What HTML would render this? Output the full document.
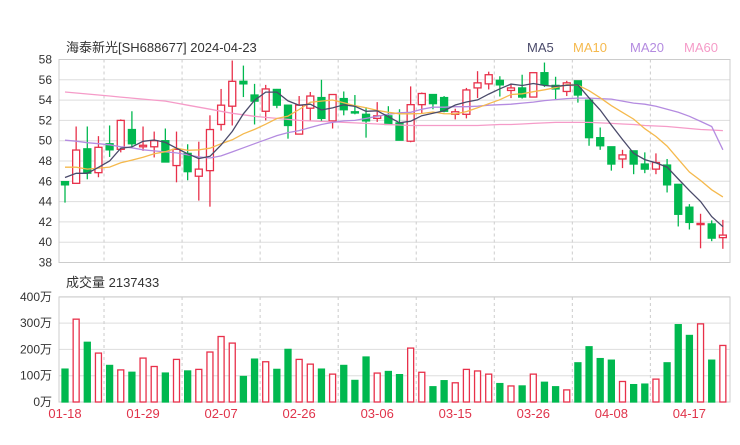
<!DOCTYPE html>
<html><head><meta charset="utf-8"><style>
body{margin:0;background:#fff;width:740px;height:440px;overflow:hidden;font-family:"Liberation Sans","Noto Sans CJK SC",sans-serif}
</style></head><body>
<svg id="c" width="740" height="440" xmlns="http://www.w3.org/2000/svg" font-family="Liberation Sans, Noto Sans CJK SC, sans-serif"></svg>
<script>
const opens=[45.97,45.8,49.2,46.85,49.7,49.15,51.1,49.4,49.4,50.0,47.55,48.75,46.5,47.05,51.6,53.4,55.85,54.5,52.9,55.05,53.5,50.65,53.2,54.25,51.95,54.15,52.85,52.6,52.2,52.45,51.75,49.95,53.55,54.55,54.25,52.6,52.6,55.2,55.6,55.95,54.95,55.2,54.3,56.7,55.45,54.85,55.9,54.0,50.3,49.4,48.2,49.0,47.7,47.2,47.6,45.7,43.45,41.75,41.8,40.45];
const closes=[45.65,49.08,46.8,49.35,49.1,52.0,49.7,49.55,50.0,47.9,49.15,46.95,47.2,51.1,53.5,55.85,55.6,53.9,55.1,53.5,51.5,53.5,54.4,52.2,54.55,53.05,52.75,51.95,52.45,51.6,50.05,53.55,54.65,53.65,52.9,52.85,55.0,55.7,56.5,55.5,55.2,54.3,56.7,55.5,55.1,55.7,54.5,50.3,49.5,47.7,48.6,47.7,47.2,47.85,45.65,42.75,41.95,41.85,40.4,40.7];
const highs=[46.0,51.4,51.4,50.45,51.5,52.1,52.9,51.4,50.9,51.2,50.9,49.65,49.9,52.5,55.1,57.9,57.4,55.6,55.5,55.1,53.5,54.4,54.8,56.0,54.6,54.85,54.5,53.3,53.8,53.4,53.1,55.35,54.75,54.6,54.4,53.15,55.2,56.85,56.8,56.35,55.6,56.5,56.7,57.7,56.3,55.9,55.9,54.0,51.3,49.4,49.1,49.0,48.85,48.75,48.2,45.7,43.75,42.8,42.15,42.2];
const lows=[43.9,45.8,46.2,46.4,48.4,48.85,49.4,49.0,48.35,47.9,45.9,46.1,44.1,43.5,51.0,51.5,54.3,51.6,52.0,53.2,50.2,50.65,51.95,51.85,51.2,52.5,52.6,50.3,51.85,51.6,50.05,49.85,52.7,53.1,52.8,52.1,52.2,54.2,55.05,54.35,54.2,54.15,54.3,55.3,54.1,54.4,53.75,49.5,49.1,47.05,47.3,46.7,46.8,46.7,44.9,41.55,41.25,39.4,40.1,39.35];
const volumes=[125,315,227,186,139,122,113,167,135,110,162,118,124,190,249,224,97,163,153,124,200,162,144,125,106,139,82,171,110,116,104,205,113,58,81,73,124,118,106,70,61,61,106,75,58,46,149,210,165,159,78,66,68,87,149,294,253,297,159,215];
const prevCloses=[49,48.7,48.4,48.1,47.8,47.0,46.8,46.4,46.0];
const ma20=[50.05,49.95,49.8,49.7,49.6,49.4,49.3,49.1,49.0,48.9,48.8,48.6,48.4,48.3,48.5,48.9,49.3,49.7,50.1,50.5,50.8,51.0,51.3,51.6,51.8,51.95,52.0,52.2,52.4,52.6,52.75,52.8,53.1,53.3,53.3,53.35,53.35,53.4,53.5,53.55,53.6,53.7,53.8,53.95,54.05,54.15,54.2,54.2,54.15,54.1,53.9,53.7,53.6,53.4,53.1,52.8,52.4,51.9,51.4,49.1];
const ma60=[54.8,54.7,54.6,54.5,54.4,54.3,54.2,54.1,54.0,53.9,53.7,53.5,53.3,53.1,52.9,52.7,52.55,52.4,52.3,52.2,52.1,52.0,51.95,51.9,51.85,51.8,51.75,51.7,51.65,51.6,51.55,51.5,51.5,51.5,51.5,51.5,51.5,51.5,51.55,51.6,51.6,51.65,51.7,51.75,51.8,51.8,51.8,51.8,51.75,51.7,51.65,51.6,51.5,51.45,51.4,51.3,51.2,51.1,51.05,51.0];
const priceTicks=[58,56,54,52,50,48,46,44,42,40,38];
const volTicks=[400,300,200,100,0];
const dateLabels=["01-18","01-29","02-07","02-26","03-06","03-15","03-26","04-08","04-17"];
const dateIdx=[0,7,14,21,28,35,42,49,56];

const svg=document.getElementById('c');
const NS='http://www.w3.org/2000/svg';
function mk(tag,attrs,parent){const e=document.createElementNS(NS,tag);for(const k in attrs)e.setAttribute(k,attrs[k]);(parent||svg).appendChild(e);return e;}
const X=i=>65+i*11.15;
const PY=p=>59.5+(58-p)*10.15;
const VY=v=>402-v*0.263;
const RED='#e8304a',GREEN='#00b84f';

// title & legend
let t=mk('text',{x:66,y:52,'font-size':13,fill:'#333'});t.textContent='海泰新光[SH688677] 2024-04-23';

const leg=[['MA5','#4a4a6a',527],['MA10','#f5b94d',573],['MA20','#b48be0',630],['MA60','#f59bc8',684]];
leg.forEach(l=>{const e=mk('text',{x:l[2],y:52,'font-size':13,fill:l[1]});e.textContent=l[0];
});
let vt=mk('text',{x:66,y:287,'font-size':13,fill:'#333'});vt.textContent='成交量 2137433';


// price grid
priceTicks.forEach(p=>{const g=mk('line',{x1:59,x2:730,y1:PY(p),y2:PY(p),stroke:'#ddd','stroke-width':1});

const l=mk('text',{x:52,y:PY(p)+4,'font-size':12,fill:'#333','text-anchor':'end'});l.textContent=p;
});
volTicks.forEach(v=>{const g=mk('line',{x1:59,x2:730,y1:VY(v),y2:VY(v),stroke:'#ddd','stroke-width':1});

const l=mk('text',{x:52,y:VY(v)+4,'font-size':12,fill:'#333','text-anchor':'end'});l.textContent=v+'万';
});
// vertical dashed
for(let k=0;k<8;k++){const xx=X(dateIdx[k]+3.5);
[[59.5,262.5],[297,402]].forEach(r=>{const d=mk('line',{x1:xx,x2:xx,y1:r[0],y2:r[1],stroke:'#ccc','stroke-dasharray':'3,3'});
});}
// frames
[[59,59.5,671,203],[59,297,671,105]].forEach(f=>{const r=mk('rect',{x:f[0],y:f[1],width:f[2],height:f[3],fill:'none',stroke:'#ccc'});
});
// date labels
dateLabels.forEach((d,k)=>{const l=mk('text',{x:X(dateIdx[k]),y:418,'font-size':13,fill:'#e0334a','text-anchor':'middle'});l.textContent=d;
});

// candles
for(let i=0;i<closes.length;i++){
 const up=closes[i]>=opens[i];const col=up?RED:GREEN;const x=X(i);
 const w=mk('line',{x1:x,x2:x,y1:PY(highs[i]),y2:PY(lows[i]),stroke:col,'stroke-width':1.3});
 
 const top=PY(Math.max(opens[i],closes[i])),bot=PY(Math.min(opens[i],closes[i]));
 const b=mk('rect',{x:x-3.5,y:top,width:7,height:Math.max(bot-top,1.2),fill:up?'#fff':col,stroke:col,'stroke-width':1.3});
 
 const vb=mk('rect',{x:x-3,y:VY(volumes[i]),width:6,height:volumes[i]*0.263,fill:up?'#fff':col,stroke:up?RED:col,'stroke-width':1.3});
 
}
// moving averages
const all=prevCloses.concat(closes);
function ma(n){const r=[];for(let i=0;i<closes.length;i++){let s=0;for(let k=0;k<n;k++)s+=all[i+9-k];r.push(s/n);}return r;}
function line(arr,col,name){const d=arr.map((v,i)=>(i?'L':'M')+X(i).toFixed(1)+','+PY(v).toFixed(1)).join('');
const p=mk('path',{d:d,fill:'none',stroke:col,'stroke-width':1.3});}
line(ma60,'#f59bc8','ma60-line');line(ma20,'#b48be0','ma20-line');line(ma(10),'#f5b94d','ma10-line');line(ma(5),'#4a4a6a','ma5-line');
</script>
</body></html>
